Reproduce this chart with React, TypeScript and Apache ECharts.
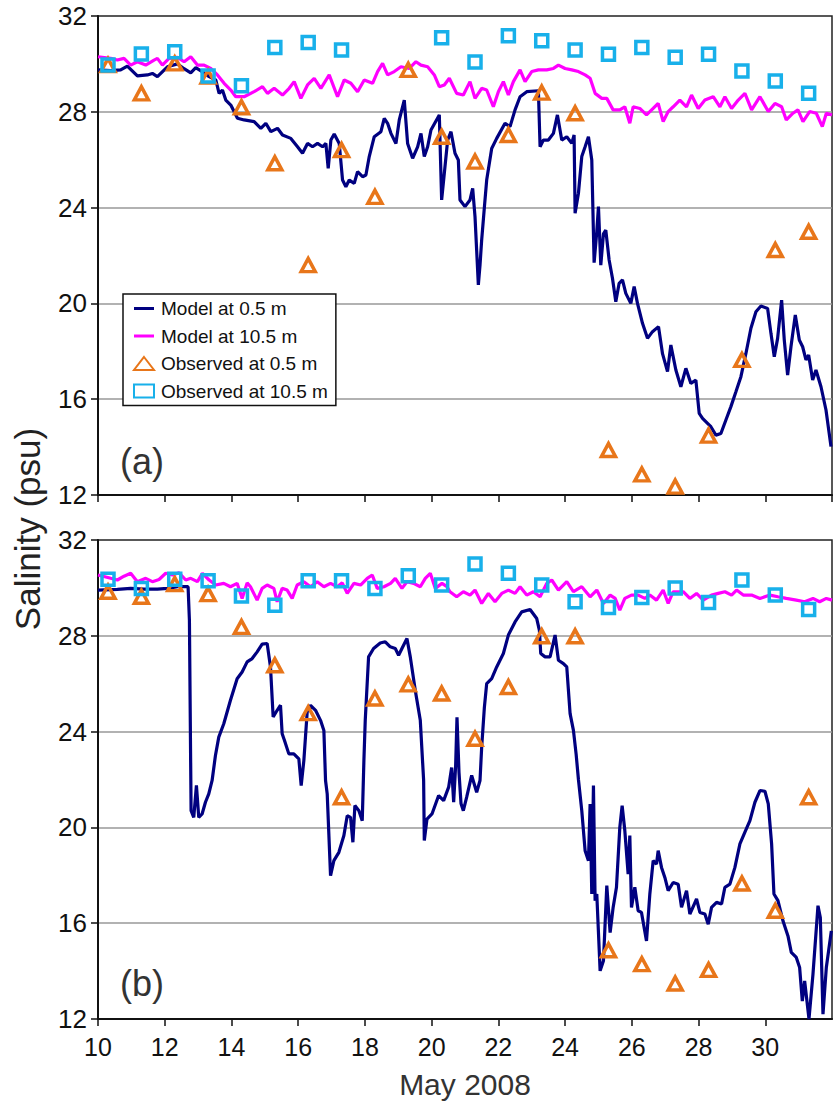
import React, { useEffect, useRef } from "react";
import * as echarts from "echarts";

// ---------- DATA ----------
// Observation times (days of May 2008)
const obsDays = [10.3, 11.3, 12.3, 13.3, 14.3, 15.3, 16.3, 17.3, 18.3, 19.3, 20.3, 21.3, 22.3, 23.3, 24.3, 25.3, 26.3, 27.3, 28.3, 29.3, 30.3, 31.3];

// Panel (a)
const obsSurfA = [29.95, 28.77, 30.02, 29.47, 28.19, 25.85, 21.6, 26.4, 24.45, 29.75, 26.96, 25.92, 27.03, 28.8, 27.94, 13.88, 12.86, 12.35, 14.48, 17.64, 22.23, 22.99];
const obsBottomA = [29.95, 30.41, 30.51, 29.49, 29.09, 30.68, 30.89, 30.58, null, null, 31.09, 30.08, 31.18, 30.97, 30.58, 30.4, 30.68, 30.28, 30.4, 29.7, 29.29, 28.77];

const modelSurfADays = [10.0, 10.38, 10.68, 10.88, 11.18, 11.48, 11.63, 11.78, 12.08, 12.38, 12.58, 12.78, 12.93, 13.13, 13.33, 13.53, 13.63, 13.73, 13.83, 13.98, 14.18, 14.38, 14.68, 14.88, 15.03, 15.18, 15.38, 15.53, 15.78, 15.98, 16.13, 16.28, 16.43, 16.58, 16.73, 16.83, 16.9, 16.98, 17.08, 17.23, 17.33, 17.43, 17.53, 17.68, 17.78, 17.93, 18.03, 18.13, 18.28, 18.48, 18.58, 18.68, 18.78, 18.93, 19.03, 19.18, 19.28, 19.43, 19.58, 19.68, 19.78, 19.88, 19.98, 20.23, 20.3, 20.38, 20.48, 20.58, 20.7, 20.8, 20.85, 21.0, 21.15, 21.23, 21.3, 21.35, 21.4, 21.45, 21.5, 21.58, 21.65, 21.8, 21.95, 22.2, 22.35, 22.5, 22.65, 22.85, 23.2, 23.25, 23.35, 23.5, 23.65, 23.77, 23.9, 24.05, 24.2, 24.27, 24.3, 24.4, 24.5, 24.6, 24.7, 24.8, 24.87, 24.95, 25.0, 25.07, 25.15, 25.22, 25.32, 25.42, 25.52, 25.62, 25.72, 25.82, 25.97, 26.07, 26.17, 26.32, 26.47, 26.62, 26.8, 26.92, 27.07, 27.17, 27.32, 27.47, 27.62, 27.77, 27.92, 28.02, 28.12, 28.27, 28.37, 28.52, 28.67, 28.82, 28.97, 29.12, 29.27, 29.42, 29.57, 29.72, 29.87, 30.07, 30.17, 30.27, 30.37, 30.49, 30.57, 30.67, 30.77, 30.9, 31.02, 31.12, 31.22, 31.3, 31.42, 31.52, 31.67, 31.82, 31.97];
const modelSurfASal = [29.75, 29.72, 29.75, 29.91, 29.5, 29.54, 29.6, 29.47, 29.88, 30.0, 29.8, 29.63, 29.84, 29.67, 29.47, 29.33, 28.77, 28.91, 28.49, 28.28, 27.73, 27.66, 27.59, 27.31, 27.52, 27.17, 27.31, 27.03, 26.89, 26.54, 26.27, 26.68, 26.54, 26.68, 26.54, 26.68, 25.64, 26.82, 27.07, 26.68, 25.15, 24.87, 25.15, 25.01, 25.5, 25.29, 25.36, 26.13, 26.96, 27.17, 27.73, 27.52, 27.1, 26.68, 27.66, 28.49, 26.68, 26.06, 26.54, 27.1, 26.13, 26.54, 27.24, 27.87, 24.32, 25.43, 26.82, 27.17, 26.27, 25.99, 24.32, 24.04, 24.32, 24.8, 23.62, 22.2, 20.77, 21.6, 22.65, 24.0, 25.15, 26.47, 26.89, 27.52, 27.38, 28.08, 28.63, 28.84, 28.88, 26.54, 26.82, 26.82, 27.1, 27.87, 26.82, 26.96, 26.68, 27.03, 23.76, 24.6, 26.13, 26.54, 26.96, 25.99, 21.7, 23.0, 24.04, 21.6, 22.9, 23.06, 21.81, 21.05, 20.07, 20.84, 20.98, 20.42, 20.0, 20.7, 20.0, 19.17, 18.54, 18.82, 19.03, 17.9, 17.15, 18.26, 17.22, 16.52, 17.29, 16.66, 16.8, 15.41, 15.2, 14.99, 14.85, 14.5, 14.57, 15.13, 15.69, 16.31, 16.94, 17.91, 18.96, 19.65, 19.89, 19.79, 18.75, 17.77, 18.54, 20.14, 18.47, 17.01, 18.19, 19.52, 18.47, 18.19, 17.64, 17.85, 16.8, 17.22, 16.52, 15.55, 14.02];

const modelBottomADays = [10.0, 10.38, 10.58, 10.78, 10.98, 11.18, 11.43, 11.68, 11.78, 11.93, 12.13, 12.38, 12.58, 12.78, 12.98, 13.18, 13.38, 13.58, 13.78, 13.98, 14.13, 14.38, 14.68, 14.93, 15.08, 15.28, 15.53, 15.73, 15.88, 16.08, 16.28, 16.48, 16.68, 16.93, 17.18, 17.38, 17.58, 17.78, 17.98, 18.23, 18.38, 18.53, 18.68, 18.88, 19.08, 19.33, 19.53, 19.68, 19.88, 20.08, 20.23, 20.38, 20.53, 20.75, 20.95, 21.15, 21.3, 21.5, 21.65, 21.85, 22.0, 22.15, 22.3, 22.45, 22.65, 22.8, 23.0, 23.2, 23.45, 23.65, 23.8, 24.0, 24.2, 24.4, 24.6, 24.75, 24.9, 25.1, 25.25, 25.44, 25.64, 25.79, 25.94, 26.04, 26.24, 26.44, 26.64, 26.79, 26.94, 27.09, 27.24, 27.44, 27.64, 27.79, 27.99, 28.19, 28.44, 28.64, 28.79, 28.99, 29.19, 29.39, 29.59, 29.84, 30.09, 30.29, 30.49, 30.63, 30.83, 30.98, 31.13, 31.33, 31.53, 31.71, 31.83, 32.0];
const modelBottomASal = [30.3, 30.23, 30.16, 30.23, 29.95, 30.09, 29.95, 30.16, 30.23, 29.95, 30.23, 30.27, 30.09, 30.3, 29.95, 29.95, 29.81, 29.54, 29.19, 28.91, 28.63, 28.63, 28.84, 29.05, 28.77, 28.98, 28.7, 28.98, 29.26, 28.56, 29.12, 29.4, 28.98, 29.54, 28.63, 29.33, 29.19, 28.84, 29.33, 29.19, 29.68, 30.02, 29.54, 29.68, 29.88, 29.81, 30.09, 29.95, 29.88, 29.54, 29.05, 29.12, 29.4, 28.77, 28.7, 29.26, 28.56, 28.98, 28.91, 28.21, 28.84, 29.26, 28.7, 29.26, 29.75, 29.26, 29.68, 29.75, 29.75, 29.81, 29.95, 29.81, 29.75, 29.68, 29.54, 29.4, 28.77, 28.56, 28.56, 28.08, 28.08, 28.21, 27.52, 28.21, 28.14, 27.87, 28.14, 28.35, 27.59, 28.01, 28.21, 28.49, 28.21, 28.7, 28.14, 28.49, 28.63, 28.21, 28.63, 28.14, 28.49, 28.77, 28.08, 28.63, 28.01, 28.35, 28.21, 27.66, 27.94, 28.08, 27.59, 28.01, 27.94, 27.38, 27.94, 27.87];

// Panel (b)
const obsSurfB = [29.84, 29.63, 30.16, 29.74, 28.37, 26.77, 24.77, 21.26, 25.38, 25.97, 25.59, 23.7, 25.86, 27.98, 27.98, 14.87, 14.29, 13.48, 14.05, 17.66, 16.52, 21.26];
const obsBottomB = [30.36, 29.98, 30.36, 30.3, 29.66, 29.28, 30.3, 30.3, 29.98, 30.51, 30.12, 31.0, 30.61, 30.12, 29.42, 29.18, 29.6, 30.0, 29.39, 30.33, 29.7, 29.1];

const modelSurfBDays = [10.0, 10.58, 10.98, 11.38, 11.78, 12.08, 12.38, 12.7, 12.74, 12.79, 12.87, 12.95, 13.02, 13.12, 13.22, 13.32, 13.42, 13.52, 13.62, 13.77, 13.97, 14.17, 14.32, 14.47, 14.62, 14.77, 14.92, 15.07, 15.17, 15.25, 15.37, 15.47, 15.52, 15.59, 15.72, 15.87, 16.02, 16.09, 16.17, 16.27, 16.37, 16.52, 16.67, 16.77, 16.82, 16.87, 16.97, 17.07, 17.22, 17.37, 17.47, 17.57, 17.64, 17.7, 17.82, 17.92, 17.97, 18.01, 18.11, 18.26, 18.46, 18.61, 18.76, 18.91, 19.01, 19.11, 19.26, 19.36, 19.51, 19.66, 19.76, 19.78, 19.86, 20.01, 20.21, 20.36, 20.51, 20.6, 20.66, 20.72, 20.76, 20.82, 20.88, 20.95, 21.05, 21.2, 21.35, 21.45, 21.5, 21.58, 21.65, 21.8, 21.95, 22.15, 22.3, 22.5, 22.7, 22.95, 23.15, 23.23, 23.27, 23.4, 23.55, 23.7, 23.8, 23.95, 24.05, 24.15, 24.25, 24.33, 24.4, 24.5, 24.6, 24.7, 24.75, 24.8, 24.85, 24.9, 24.95, 25.05, 25.15, 25.25, 25.35, 25.44, 25.54, 25.64, 25.71, 25.79, 25.89, 25.94, 25.99, 26.09, 26.19, 26.29, 26.44, 26.54, 26.64, 26.74, 26.79, 26.89, 26.99, 27.09, 27.24, 27.39, 27.49, 27.64, 27.74, 27.94, 28.04, 28.19, 28.29, 28.39, 28.54, 28.69, 28.79, 28.94, 29.09, 29.24, 29.39, 29.54, 29.69, 29.84, 29.99, 30.09, 30.19, 30.26, 30.38, 30.53, 30.68, 30.78, 30.93, 31.03, 31.11, 31.18, 31.31, 31.43, 31.58, 31.65, 31.73, 31.83, 31.98];
const modelSurfBSal = [29.91, 29.94, 29.98, 29.95, 29.95, 29.98, 30.05, 30.05, 28.65, 20.7, 20.42, 21.75, 20.42, 20.56, 21.05, 21.4, 21.96, 23.0, 23.77, 24.33, 25.31, 26.21, 26.49, 26.91, 27.05, 27.33, 27.65, 27.68, 26.7, 24.61, 24.89, 25.1, 23.91, 23.63, 23.07, 23.07, 22.86, 21.75, 22.79, 24.82, 25.1, 24.89, 24.47, 24.05, 21.96, 21.4, 17.98, 18.61, 18.96, 19.66, 20.49, 20.42, 19.38, 20.91, 20.7, 20.28, 22.8, 24.47, 27.12, 27.47, 27.7, 27.75, 27.54, 27.47, 27.19, 27.47, 27.89, 27.12, 25.72, 24.47, 21.96, 19.45, 20.35, 20.56, 21.33, 21.12, 21.68, 22.5, 21.05, 22.6, 24.6, 22.3, 21.0, 20.7, 21.26, 22.17, 21.47, 21.96, 23.35, 25.0, 26.0, 26.21, 26.7, 27.26, 28.03, 28.58, 29.0, 29.1, 28.72, 28.23, 27.26, 27.12, 27.12, 28.03, 26.98, 26.84, 26.7, 24.75, 24.05, 23.07, 22.0, 20.7, 19.03, 18.61, 20.98, 17.22, 21.75, 16.94, 17.22, 14.01, 14.43, 17.57, 15.61, 16.66, 17.5, 20.0, 20.91, 19.87, 18.05, 19.66, 16.66, 17.5, 16.52, 16.45, 15.26, 17.22, 18.61, 18.47, 19.03, 18.33, 17.91, 17.36, 17.7, 17.63, 16.66, 17.36, 16.38, 17.01, 16.45, 16.38, 15.96, 16.66, 16.87, 16.8, 17.5, 17.63, 18.33, 19.31, 19.8, 20.28, 21.05, 21.54, 21.51, 20.98, 19.31, 17.22, 16.94, 16.1, 15.47, 14.78, 14.57, 14.15, 12.75, 13.59, 12.0, 13.87, 16.73, 16.24, 12.2, 14.15, 15.68];

const modelBottomBDays = [10.0, 10.38, 10.58, 10.78, 10.98, 11.18, 11.43, 11.63, 11.83, 12.03, 12.23, 12.43, 12.63, 12.78, 12.98, 13.13, 13.33, 13.53, 13.77, 13.97, 14.17, 14.32, 14.47, 14.57, 14.77, 14.92, 15.07, 15.27, 15.37, 15.52, 15.67, 15.82, 15.97, 16.17, 16.37, 16.57, 16.77, 16.97, 17.17, 17.32, 17.47, 17.67, 17.87, 18.07, 18.22, 18.37, 18.57, 18.77, 18.91, 19.11, 19.26, 19.46, 19.66, 19.81, 19.96, 20.11, 20.31, 20.46, 20.55, 20.75, 20.95, 21.15, 21.3, 21.5, 21.7, 21.9, 22.1, 22.3, 22.5, 22.65, 22.85, 23.05, 23.25, 23.45, 23.6, 23.8, 24.05, 24.25, 24.5, 24.75, 24.95, 25.15, 25.35, 25.5, 25.64, 25.79, 25.99, 26.19, 26.39, 26.54, 26.74, 26.94, 27.09, 27.24, 27.54, 27.74, 27.94, 28.14, 28.39, 28.59, 28.79, 28.99, 29.14, 29.34, 29.59, 29.84, 30.14, 30.38, 30.63, 30.93, 31.18, 31.43, 31.63, 31.83, 32.0];
const modelBottomBSal = [30.54, 30.4, 30.33, 30.49, 30.61, 30.26, 30.4, 30.26, 30.35, 30.61, 30.54, 30.63, 30.33, 30.4, 30.26, 30.61, 30.33, 30.12, 30.19, 30.05, 30.19, 29.56, 30.21, 30.05, 29.49, 29.98, 30.12, 29.98, 29.42, 29.98, 29.91, 29.56, 30.12, 30.26, 30.05, 30.26, 30.05, 30.19, 30.05, 30.21, 29.77, 30.19, 30.12, 30.4, 30.54, 29.98, 30.05, 30.19, 30.4, 29.98, 30.26, 30.19, 30.05, 30.4, 30.61, 29.98, 30.19, 30.05, 29.84, 29.63, 29.84, 29.7, 29.91, 29.35, 29.77, 29.42, 29.77, 29.91, 29.77, 30.05, 29.7, 29.84, 29.63, 30.19, 30.33, 29.91, 30.26, 29.84, 30.05, 29.63, 29.91, 29.35, 29.7, 29.56, 29.07, 29.56, 29.7, 29.7, 29.56, 29.7, 29.49, 29.91, 29.35, 29.84, 29.84, 29.56, 29.77, 29.49, 29.7, 29.77, 29.84, 29.7, 29.91, 29.7, 29.7, 29.56, 29.7, 29.63, 29.56, 29.49, 29.42, 29.56, 29.42, 29.56, 29.49];

const xTickValues = [10, 12, 14, 16, 18, 20, 22, 24, 26, 28, 30];
const yTickValues = [12, 16, 20, 24, 28, 32];

const seriesNames = ["Model at 0.5 m", "Model at 10.5 m", "Observed at 0.5 m", "Observed at 10.5 m"];

// ---------- STYLE ----------
const FONT = "'Liberation Sans', Arial, Helvetica, sans-serif";
const NAVY = "#000080";
const MAGENTA = "#ff00ff";
const ORANGE = "#e8761a";
const CYAN = "#18b0ea";
const LINE_ICON = "path://M0,0H20V3H0Z";

const zip = (xs: number[], ys: (number | null)[]) => xs.map((x, i) => [x, ys[i]]);

export default function App() {
  const ref = useRef<HTMLDivElement>(null);

  useEffect(() => {
    if (!ref.current) return;
    const chart = echarts.init(ref.current, null, { renderer: "svg" });

    const xAxisBase = (gridIndex: number, showLabels: boolean) => ({
      type: "value",
      gridIndex,
      min: xTickValues[0],
      max: 32,
      interval: 2,
      axisLine: { show: true, onZero: false, lineStyle: { color: "#111", width: 2 } },
      axisTick: { show: true, length: 7, lineStyle: { color: "#111", width: 1.5 } },
      splitLine: { show: false },
      axisLabel: {
        show: showLabels,
        showMaxLabel: false,
        margin: 15,
        fontSize: 25,
        color: "#111",
        fontFamily: FONT,
      },
      name: showLabels ? "May 2008" : "",
      nameLocation: "middle",
      nameGap: 50,
      nameTextStyle: { fontSize: 30, color: "#333", fontFamily: FONT },
    });

    const yAxisBase = (gridIndex: number) => ({
      type: "value",
      gridIndex,
      min: yTickValues[0],
      max: yTickValues[yTickValues.length - 1],
      interval: 4,
      axisLine: { show: true, onZero: false, lineStyle: { color: "#111", width: 2 } },
      axisTick: { show: true, length: 7, lineStyle: { color: "#111", width: 1.5 } },
      splitLine: { show: true, showMinLine: false, showMaxLine: false, lineStyle: { color: "#999", width: 1.5 } },
      axisLabel: { margin: 11, fontSize: 26, color: "#111", fontFamily: FONT },
    });

    const lineSeries = (name: string, idx: number, days: number[], sal: number[], color: string) => ({
      name,
      type: "line",
      xAxisIndex: idx,
      yAxisIndex: idx,
      data: zip(days, sal),
      symbol: "none",
      showSymbol: false,
      lineStyle: { color, width: 3.2 },
      itemStyle: { color },
      z: 2,
    });

    const scatterSeries = (name: string, idx: number, vals: (number | null)[], color: string, symbol: string, size: any) => ({
      name,
      type: "scatter",
      xAxisIndex: idx,
      yAxisIndex: idx,
      data: zip(obsDays, vals).filter((p) => p[1] !== null),
      symbol,
      symbolSize: size,
      itemStyle: { color: "rgba(255,255,255,0)", borderColor: color, borderWidth: 3.5, opacity: 1 },
      z: 4,
    });

    const option: any = {
      animation: false,
      backgroundColor: "#fff",
      grid: [
        { left: 98, top: 16, width: 734, height: 479, show: true, borderColor: "#222", borderWidth: 1.5, backgroundColor: "transparent" },
        { left: 98, top: 540, width: 734, height: 479, show: true, borderColor: "#222", borderWidth: 1.5, backgroundColor: "transparent" },
      ],
      xAxis: [xAxisBase(0, false), xAxisBase(1, true)],
      yAxis: [yAxisBase(0), yAxisBase(1)],
      legend: {
        data: [
          { name: seriesNames[0], icon: LINE_ICON },
          { name: seriesNames[1], icon: LINE_ICON },
          { name: seriesNames[2] },
          { name: seriesNames[3] },
        ],
        orient: "vertical",
        left: 123,
        top: 294,
        padding: [5, 8, 5, 10],
        itemGap: 8.5,
        itemWidth: 20,
        itemHeight: 13,
        backgroundColor: "#fff",
        borderColor: "#111",
        borderWidth: 1.5,
        borderRadius: 0,
        textStyle: { fontSize: 19, color: "#111", fontFamily: FONT, padding: [0, 0, 0, 2] },
        selectedMode: false,
        z: 10,
      },
      graphic: [
        {
          type: "text",
          x: 27,
          y: 529,
          rotation: Math.PI / 2,
          style: { text: "Salinity (psu)", fontSize: 35, fill: "#222", fontFamily: FONT, textAlign: "center", textVerticalAlign: "middle" },
        },
        {
          type: "text",
          x: 120,
          y: 461,
          style: { text: "(a)", fontSize: 36, fill: "#333", fontFamily: FONT, textAlign: "left", textVerticalAlign: "middle" },
        },
        {
          type: "text",
          x: 120,
          y: 983,
          style: { text: "(b)", fontSize: 36, fill: "#333", fontFamily: FONT, textAlign: "left", textVerticalAlign: "middle" },
        },
      ],
      series: [
        lineSeries(seriesNames[0], 0, modelSurfADays, modelSurfASal, NAVY),
        lineSeries(seriesNames[1], 0, modelBottomADays, modelBottomASal, MAGENTA),
        scatterSeries(seriesNames[2], 0, obsSurfA, ORANGE, "triangle", [14, 13]),
        scatterSeries(seriesNames[3], 0, obsBottomA, CYAN, "rect", 12),
        lineSeries(seriesNames[0], 1, modelSurfBDays, modelSurfBSal, NAVY),
        lineSeries(seriesNames[1], 1, modelBottomBDays, modelBottomBSal, MAGENTA),
        scatterSeries(seriesNames[2], 1, obsSurfB, ORANGE, "triangle", [14, 13]),
        scatterSeries(seriesNames[3], 1, obsBottomB, CYAN, "rect", 12),
      ],
    };

    chart.setOption(option);
    return () => chart.dispose();
  }, []);

  return <div ref={ref} style={{ position: "absolute", left: 0, top: 0, width: 833, height: 1103 }} />;
}
